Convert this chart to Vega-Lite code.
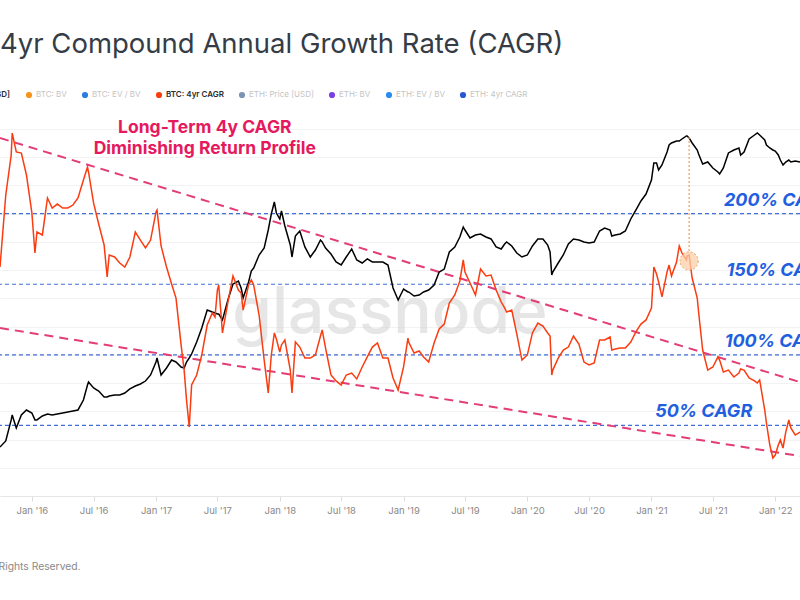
{
  "$schema": "https://vega.github.io/schema/vega-lite/v6.json",
  "width": 800,
  "height": 384,
  "autosize": {"type": "none"},
  "padding": {"left": 0, "top": 112, "right": 0, "bottom": 104},
  "background": "white",
  "config": {"view": {"stroke": null}, "font": "Inter"},
  "title": {"text": "4yr Compound Annual Growth Rate (CAGR)", "anchor": "start", "frame": "group", "font": "Inter", "fontSize": 27.5, "fontWeight": 400, "color": "#353c46", "offset": 11, "baseline": "alphabetic"},
  "datasets": {
    "btc": [
      {"d": "2015-09-29", "price": 241, "cagr": 162.2},
      {"d": "2015-10-16", "price": 269, "cagr": 213.2},
      {"d": "2015-11-01", "price": 393, "cagr": 241.5},
      {"d": "2015-11-04", "price": 430, "cagr": 257.1},
      {"d": "2015-11-16", "price": 340, "cagr": 243.7},
      {"d": "2015-12-01", "price": 430, "cagr": 242.9},
      {"d": "2015-12-16", "price": 470, "cagr": 227.4},
      {"d": "2016-01-01", "price": 445, "cagr": 200.5},
      {"d": "2016-01-10", "price": 393, "cagr": 172.1},
      {"d": "2016-01-16", "price": 393, "cagr": 187.0},
      {"d": "2016-02-01", "price": 422, "cagr": 184.9},
      {"d": "2016-02-16", "price": 437, "cagr": 211.1},
      {"d": "2016-03-01", "price": 430, "cagr": 204.0},
      {"d": "2016-03-16", "price": 437, "cagr": 206.8},
      {"d": "2016-04-01", "price": 445, "cagr": 204.0},
      {"d": "2016-04-16", "price": 453, "cagr": 204.0},
      {"d": "2016-05-01", "price": 461, "cagr": 206.1},
      {"d": "2016-05-16", "price": 470, "cagr": 211.1},
      {"d": "2016-06-01", "price": 562, "cagr": 223.8},
      {"d": "2016-06-13", "price": 736, "cagr": 233.0},
      {"d": "2016-06-16", "price": 778, "cagr": 229.5},
      {"d": "2016-07-01", "price": 698, "cagr": 207.5},
      {"d": "2016-07-16", "price": 661, "cagr": 192.7},
      {"d": "2016-08-01", "price": 594, "cagr": 177.8},
      {"d": "2016-08-10", "price": 594, "cagr": 155.1},
      {"d": "2016-08-16", "price": 604, "cagr": 170.7},
      {"d": "2016-09-01", "price": 615, "cagr": 169.3},
      {"d": "2016-09-16", "price": 615, "cagr": 165.0},
      {"d": "2016-10-01", "price": 638, "cagr": 162.2},
      {"d": "2016-10-16", "price": 686, "cagr": 169.3},
      {"d": "2016-11-01", "price": 723, "cagr": 187.0},
      {"d": "2016-11-16", "price": 750, "cagr": 181.3},
      {"d": "2016-12-01", "price": 791, "cagr": 175.7},
      {"d": "2016-12-16", "price": 882, "cagr": 181.3},
      {"d": "2017-01-01", "price": 1114, "cagr": 201.2},
      {"d": "2017-01-04", "price": 1197, "cagr": 202.6},
      {"d": "2017-01-16", "price": 882, "cagr": 177.1},
      {"d": "2017-02-01", "price": 1000, "cagr": 162.2},
      {"d": "2017-02-16", "price": 1155, "cagr": 150.2},
      {"d": "2017-03-01", "price": 1114, "cagr": 140.2},
      {"d": "2017-03-16", "price": 1018, "cagr": 107.0},
      {"d": "2017-03-25", "price": 1000, "cagr": 89.2},
      {"d": "2017-04-01", "price": 1114, "cagr": 68.0},
      {"d": "2017-04-09", "price": 1197, "cagr": 48.9},
      {"d": "2017-04-16", "price": 1286, "cagr": 78.6},
      {"d": "2017-05-01", "price": 1597, "cagr": 85.7},
      {"d": "2017-05-16", "price": 2054, "cagr": 99.9},
      {"d": "2017-06-01", "price": 2839, "cagr": 121.1},
      {"d": "2017-06-16", "price": 2738, "cagr": 129.6},
      {"d": "2017-06-24", "price": 2689, "cagr": 126.8},
      {"d": "2017-07-01", "price": 2641, "cagr": 145.9},
      {"d": "2017-07-05", "price": 2641, "cagr": 149.5},
      {"d": "2017-07-16", "price": 2371, "cagr": 115.5},
      {"d": "2017-08-01", "price": 3398, "cagr": 137.4},
      {"d": "2017-08-16", "price": 4532, "cagr": 155.8},
      {"d": "2017-09-01", "price": 4783, "cagr": 145.9},
      {"d": "2017-09-09", "price": 4217, "cagr": 143.8},
      {"d": "2017-09-15", "price": 3524, "cagr": 131.7},
      {"d": "2017-10-01", "price": 4698, "cagr": 149.5},
      {"d": "2017-10-09", "price": 5727, "cagr": 153.0},
      {"d": "2017-10-16", "price": 6043, "cagr": 149.5},
      {"d": "2017-11-01", "price": 7635, "cagr": 128.2},
      {"d": "2017-11-16", "price": 8660, "cagr": 96.3},
      {"d": "2017-11-28", "price": 11970, "cagr": 73.0},
      {"d": "2017-12-07", "price": 15960, "cagr": 99.9},
      {"d": "2017-12-16", "price": 19810, "cagr": 115.5},
      {"d": "2017-12-22", "price": 16250, "cagr": 111.2},
      {"d": "2018-01-01", "price": 14590, "cagr": 102.0},
      {"d": "2018-01-06", "price": 16860, "cagr": 107.0},
      {"d": "2018-01-16", "price": 12860, "cagr": 110.5},
      {"d": "2018-02-01", "price": 9140, "cagr": 89.2},
      {"d": "2018-02-06", "price": 7363, "cagr": 73.0},
      {"d": "2018-02-16", "price": 10740, "cagr": 109.1},
      {"d": "2018-03-01", "price": 11760, "cagr": 105.5},
      {"d": "2018-03-16", "price": 8820, "cagr": 97.7},
      {"d": "2018-04-01", "price": 7363, "cagr": 97.7},
      {"d": "2018-04-16", "price": 8350, "cagr": 99.9},
      {"d": "2018-05-01", "price": 10000, "cagr": 113.3},
      {"d": "2018-05-06", "price": 9650, "cagr": 117.6},
      {"d": "2018-05-16", "price": 8660, "cagr": 104.8},
      {"d": "2018-06-01", "price": 7770, "cagr": 85.7},
      {"d": "2018-06-16", "price": 6730, "cagr": 81.5},
      {"d": "2018-07-01", "price": 6380, "cagr": 78.6},
      {"d": "2018-07-16", "price": 7363, "cagr": 85.7},
      {"d": "2018-08-01", "price": 8510, "cagr": 87.1},
      {"d": "2018-08-16", "price": 6980, "cagr": 82.9},
      {"d": "2018-09-01", "price": 6610, "cagr": 91.4},
      {"d": "2018-09-16", "price": 7110, "cagr": 98.5},
      {"d": "2018-10-01", "price": 6730, "cagr": 105.5},
      {"d": "2018-10-16", "price": 6730, "cagr": 108.4},
      {"d": "2018-11-01", "price": 6730, "cagr": 97.7},
      {"d": "2018-11-16", "price": 6380, "cagr": 97.7},
      {"d": "2018-12-01", "price": 4217, "cagr": 83.6},
      {"d": "2018-12-16", "price": 3398, "cagr": 75.1},
      {"d": "2019-01-01", "price": 4140, "cagr": 91.4},
      {"d": "2019-01-14", "price": 3925, "cagr": 111.9},
      {"d": "2019-01-16", "price": 3925, "cagr": 109.1},
      {"d": "2019-02-01", "price": 3652, "cagr": 101.3},
      {"d": "2019-02-16", "price": 3718, "cagr": 102.7},
      {"d": "2019-03-01", "price": 3925, "cagr": 98.5},
      {"d": "2019-03-16", "price": 4067, "cagr": 94.9},
      {"d": "2019-04-01", "price": 4450, "cagr": 108.4},
      {"d": "2019-04-16", "price": 5623, "cagr": 118.3},
      {"d": "2019-05-01", "price": 5930, "cagr": 121.8},
      {"d": "2019-05-16", "price": 8060, "cagr": 136.7},
      {"d": "2019-06-01", "price": 8820, "cagr": 142.4},
      {"d": "2019-06-16", "price": 10550, "cagr": 152.3},
      {"d": "2019-06-26", "price": 12640, "cagr": 167.2},
      {"d": "2019-07-01", "price": 11970, "cagr": 158.7},
      {"d": "2019-07-16", "price": 10370, "cagr": 150.9},
      {"d": "2019-08-01", "price": 10940, "cagr": 142.4},
      {"d": "2019-08-16", "price": 11140, "cagr": 160.8},
      {"d": "2019-09-01", "price": 10550, "cagr": 155.8},
      {"d": "2019-09-16", "price": 10190, "cagr": 156.5},
      {"d": "2019-10-01", "price": 8820, "cagr": 145.9},
      {"d": "2019-10-16", "price": 8510, "cagr": 137.4},
      {"d": "2019-10-26", "price": 9300, "cagr": 133.2},
      {"d": "2019-11-01", "price": 9650, "cagr": 130.3},
      {"d": "2019-11-16", "price": 8980, "cagr": 131.7},
      {"d": "2019-12-01", "price": 7910, "cagr": 114.7},
      {"d": "2019-12-16", "price": 7363, "cagr": 96.3},
      {"d": "2020-01-01", "price": 7635, "cagr": 99.9},
      {"d": "2020-01-16", "price": 8980, "cagr": 115.5},
      {"d": "2020-02-01", "price": 10190, "cagr": 122.5},
      {"d": "2020-02-16", "price": 10190, "cagr": 120.4},
      {"d": "2020-03-01", "price": 9140, "cagr": 115.5},
      {"d": "2020-03-08", "price": 8060, "cagr": 113.3},
      {"d": "2020-03-13", "price": 5330, "cagr": 85.7},
      {"d": "2020-03-16", "price": 5623, "cagr": 89.2},
      {"d": "2020-04-01", "price": 6610, "cagr": 97.7},
      {"d": "2020-04-16", "price": 7635, "cagr": 103.4},
      {"d": "2020-05-01", "price": 9300, "cagr": 105.5},
      {"d": "2020-05-16", "price": 10190, "cagr": 113.3},
      {"d": "2020-06-01", "price": 10000, "cagr": 107.7},
      {"d": "2020-06-16", "price": 9650, "cagr": 94.9},
      {"d": "2020-07-01", "price": 9480, "cagr": 92.8},
      {"d": "2020-07-16", "price": 9650, "cagr": 94.2},
      {"d": "2020-08-01", "price": 11760, "cagr": 110.5},
      {"d": "2020-08-16", "price": 12410, "cagr": 110.5},
      {"d": "2020-09-01", "price": 11970, "cagr": 112.6},
      {"d": "2020-09-06", "price": 10740, "cagr": 103.4},
      {"d": "2020-09-16", "price": 10940, "cagr": 104.1},
      {"d": "2020-10-01", "price": 11140, "cagr": 104.8},
      {"d": "2020-10-16", "price": 11760, "cagr": 104.8},
      {"d": "2020-11-01", "price": 14590, "cagr": 109.1},
      {"d": "2020-11-16", "price": 17150, "cagr": 116.2},
      {"d": "2020-12-01", "price": 20170, "cagr": 121.8},
      {"d": "2020-12-16", "price": 22870, "cagr": 124.7},
      {"d": "2021-01-01", "price": 29430, "cagr": 133.2},
      {"d": "2021-01-08", "price": 39970, "cagr": 162.2},
      {"d": "2021-01-16", "price": 39970, "cagr": 157.2},
      {"d": "2021-01-22", "price": 35240, "cagr": 151.6},
      {"d": "2021-02-01", "price": 38540, "cagr": 141.0},
      {"d": "2021-02-16", "price": 48690, "cagr": 158.7},
      {"d": "2021-02-22", "price": 55210, "cagr": 163.6},
      {"d": "2021-03-01", "price": 57250, "cagr": 155.8},
      {"d": "2021-03-16", "price": 59360, "cagr": 165.7},
      {"d": "2021-03-24", "price": 59360, "cagr": 177.1},
      {"d": "2021-04-01", "price": 61530, "cagr": 172.1},
      {"d": "2021-04-14", "price": 64940, "cagr": 167.2},
      {"d": "2021-04-16", "price": 64940, "cagr": 170.0},
      {"d": "2021-04-22", "price": 62660, "cagr": 170.7},
      {"d": "2021-05-01", "price": 57250, "cagr": 154.4},
      {"d": "2021-05-16", "price": 50490, "cagr": 140.2},
      {"d": "2021-05-20", "price": 46970, "cagr": 130.3},
      {"d": "2021-06-01", "price": 39250, "cagr": 103.4},
      {"d": "2021-06-16", "price": 40670, "cagr": 89.2},
      {"d": "2021-07-01", "price": 36520, "cagr": 91.4},
      {"d": "2021-07-16", "price": 33980, "cagr": 98.5},
      {"d": "2021-07-21", "price": 32790, "cagr": 96.3},
      {"d": "2021-08-01", "price": 36520, "cagr": 87.8},
      {"d": "2021-08-16", "price": 47860, "cagr": 89.2},
      {"d": "2021-09-01", "price": 50490, "cagr": 84.3},
      {"d": "2021-09-16", "price": 52340, "cagr": 87.1},
      {"d": "2021-09-21", "price": 46140, "cagr": 90.0},
      {"d": "2021-10-01", "price": 48690, "cagr": 89.2},
      {"d": "2021-10-16", "price": 61530, "cagr": 83.6},
      {"d": "2021-11-01", "price": 66110, "cagr": 81.5},
      {"d": "2021-11-09", "price": 68540, "cagr": 80.0},
      {"d": "2021-11-16", "price": 66110, "cagr": 82.2},
      {"d": "2021-12-01", "price": 60430, "cagr": 60.9},
      {"d": "2021-12-06", "price": 55210, "cagr": 51.7},
      {"d": "2021-12-16", "price": 52340, "cagr": 36.1},
      {"d": "2021-12-25", "price": 50490, "cagr": 26.9},
      {"d": "2022-01-01", "price": 49590, "cagr": 29.0},
      {"d": "2022-01-10", "price": 46140, "cagr": 36.1},
      {"d": "2022-01-16", "price": 42170, "cagr": 39.7},
      {"d": "2022-01-24", "price": 38540, "cagr": 34.0},
      {"d": "2022-02-01", "price": 40670, "cagr": 45.3},
      {"d": "2022-02-10", "price": 42170, "cagr": 53.8},
      {"d": "2022-02-16", "price": 40670, "cagr": 48.2},
      {"d": "2022-03-01", "price": 41400, "cagr": 43.2},
      {"d": "2022-03-15", "price": 40670, "cagr": 45.3}
    ],
    "levels": [
      {"cagr": 50, "label": "50% CAGR", "d": "2021-01-12"},
      {"cagr": 100, "label": "100% CAGR", "d": "2021-08-05"},
      {"cagr": 150, "label": "150% CAGR", "d": "2021-08-10"},
      {"cagr": 200, "label": "200% CAGR", "d": "2021-08-03"}
    ],
    "trend": [
      {"d": "2015-09-29", "cagr": 253.6, "k": "upper"},
      {"d": "2022-03-15", "cagr": 80.7, "k": "upper"},
      {"d": "2015-09-29", "cagr": 119.0, "k": "lower"},
      {"d": "2022-03-15", "cagr": 28.3, "k": "lower"}
    ],
    "peak": [
      {"d": "2021-04-22", "cagr": 166.5, "top": 255.7, "bottom": 173.5}
    ],
    "notes": [
      {"d": "2018-11-22", "cagr": 115.5, "t": "glassnode"},
      {"d": "2017-05-25", "cagr": 260.7, "t": "Long-Term 4y CAGR"}
    ]
  },
  "layer": [
    {
      "data": {"name": "notes"},
      "transform": [{"filter": "datum.t == 'glassnode'"}],
      "mark": {"type": "text", "font": "Inter", "fontSize": 64, "fontWeight": 500, "fill": "#d2d2d2", "opacity": 0.55, "align": "center", "baseline": "alphabetic"},
      "encoding": {
        "x": {"field": "d", "type": "temporal", "scale": {"type": "utc", "domain": [{"year": 2015, "month": 9, "date": 29, "utc": true}, {"year": 2022, "month": 3, "date": 15, "utc": true}]}},
        "y": {"field": "cagr", "type": "quantitative", "scale": {"domain": [0, 272], "nice": false, "zero": false}, "axis": null},
        "text": {"field": "t"}
      }
    },
    {
      "data": {"name": "levels"},
      "mark": {"type": "rule", "stroke": "#3f6fd7", "strokeWidth": 1.2, "strokeDash": [4, 3]},
      "encoding": {
        "y": {"field": "cagr", "type": "quantitative", "scale": {"domain": [0, 272], "nice": false, "zero": false}, "axis": {"orient": "left", "labels": false, "ticks": false, "domain": false, "grid": true, "gridColor": "#f2f2f2", "gridWidth": 1, "tickCount": 14, "title": null}}
      }
    },
    {
      "data": {"name": "trend"},
      "mark": {"type": "line", "stroke": "#e23d78", "strokeWidth": 2, "strokeDash": [9, 6]},
      "encoding": {
        "x": {"field": "d", "type": "temporal", "scale": {"type": "utc", "domain": [{"year": 2015, "month": 9, "date": 29, "utc": true}, {"year": 2022, "month": 3, "date": 15, "utc": true}]}},
        "y": {"field": "cagr", "type": "quantitative", "scale": {"domain": [0, 272], "nice": false, "zero": false}, "axis": null},
        "detail": {"field": "k"}
      }
    },
    {
      "data": {"name": "btc"},
      "mark": {"type": "line", "strokeWidth": 1.5, "interpolate": "linear"},
      "encoding": {
        "x": {"field": "d", "type": "temporal", "scale": {"type": "utc", "domain": [{"year": 2015, "month": 9, "date": 29, "utc": true}, {"year": 2022, "month": 3, "date": 15, "utc": true}]},
          "axis": {"orient": "bottom", "format": "%b '%y", "tickCount": {"interval": "month", "step": 6}, "labelFont": "Inter", "labelFontSize": 9.5, "labelColor": "#888888", "labelPadding": 4, "tickColor": "#dddddd", "tickSize": 5, "domainColor": "#e6e6e6", "grid": false, "labelFlush": false, "labelOverlap": false,
            "title": "© 2022 Glassnode. All Rights Reserved.", "titleX": 80, "titleY": 73, "titleAlign": "right", "titleAnchor": null, "titleBaseline": "alphabetic", "titleFont": "Inter", "titleFontSize": 10.3, "titleFontWeight": 400, "titleColor": "#8a8a8a"}},
        "y": {"field": "price", "type": "quantitative", "scale": {"type": "log", "domain": [100, 100000], "nice": false, "zero": false}, "axis": null},
        "color": {"datum": "BTC: Price [USD]", "type": "nominal",
          "scale": {"domain": ["BTC: Price [USD]", "BTC: BV", "BTC: EV / BV", "BTC: 4yr CAGR", "ETH: Price [USD]", "ETH: BV", "ETH: EV / BV", "ETH: 4yr CAGR"],
                    "range": ["#000000", "#f7931a", "#2b7de0", "#fa3c10", "#7d93b5", "#7b3fe4", "#2b8cf0", "#2a56d6"]},
          "legend": {"orient": "none", "legendX": -66, "legendY": -21, "direction": "horizontal", "columns": 8, "columnPadding": 14, "title": null, "symbolType": "circle", "symbolSize": 38, "symbolStrokeWidth": 0, "labelFont": "Inter", "labelFontSize": 8, "labelColor": "#bdbdbd", "labelOffset": 3,
            "encode": {
              "symbols": {"update": {"fill": {"scale": "color", "field": "value"}, "stroke": {"value": "transparent"}, "shape": {"value": "circle"}}},
              "labels": {"update": {"fill": {"signal": "indexof(['BTC: Price [USD]','BTC: 4yr CAGR'], datum.label) >= 0 ? '#2b2b2b' : '#c4c4c4'"}, "fontWeight": {"signal": "indexof(['BTC: Price [USD]','BTC: 4yr CAGR'], datum.label) >= 0 ? 600 : 400"}, "fontSize": {"value": 8}}}
            }}
        }
      }
    },
    {
      "data": {"name": "btc"},
      "mark": {"type": "line", "strokeWidth": 1.5, "interpolate": "linear"},
      "encoding": {
        "x": {"field": "d", "type": "temporal", "scale": {"type": "utc", "domain": [{"year": 2015, "month": 9, "date": 29, "utc": true}, {"year": 2022, "month": 3, "date": 15, "utc": true}]}},
        "y": {"field": "cagr", "type": "quantitative", "scale": {"domain": [0, 272], "nice": false, "zero": false}, "axis": null},
        "color": {"datum": "BTC: 4yr CAGR", "type": "nominal"}
      }
    },
    {
      "data": {"name": "peak"},
      "mark": {"type": "rule", "stroke": "#f0a05a", "strokeWidth": 1.2, "strokeDash": [2, 2]},
      "encoding": {
        "x": {"field": "d", "type": "temporal", "scale": {"type": "utc", "domain": [{"year": 2015, "month": 9, "date": 29, "utc": true}, {"year": 2022, "month": 3, "date": 15, "utc": true}]}},
        "y": {"field": "bottom", "type": "quantitative", "scale": {"domain": [0, 272], "nice": false, "zero": false}, "axis": null},
        "y2": {"field": "top"}
      }
    },
    {
      "data": {"name": "peak"},
      "mark": {"type": "point", "shape": "circle", "size": 330, "filled": true, "fill": "#fbcfa8", "fillOpacity": 0.75, "stroke": "#f0a05a", "strokeWidth": 1, "strokeDash": [2, 2]},
      "encoding": {
        "x": {"field": "d", "type": "temporal", "scale": {"type": "utc", "domain": [{"year": 2015, "month": 9, "date": 29, "utc": true}, {"year": 2022, "month": 3, "date": 15, "utc": true}]}},
        "y": {"field": "cagr", "type": "quantitative", "scale": {"domain": [0, 272], "nice": false, "zero": false}, "axis": null}
      }
    },
    {
      "data": {"name": "levels"},
      "mark": {"type": "text", "font": "Inter", "fontSize": 18, "fontWeight": 700, "fontStyle": "italic", "fill": "#1f5fe0", "align": "left", "baseline": "bottom", "dy": -4},
      "encoding": {
        "x": {"field": "d", "type": "temporal", "scale": {"type": "utc", "domain": [{"year": 2015, "month": 9, "date": 29, "utc": true}, {"year": 2022, "month": 3, "date": 15, "utc": true}]}},
        "y": {"field": "cagr", "type": "quantitative", "scale": {"domain": [0, 272], "nice": false, "zero": false}, "axis": null},
        "text": {"field": "label"}
      }
    },
    {
      "data": {"name": "notes"},
      "transform": [{"filter": "datum.t == 'Long-Term 4y CAGR'"}],
      "mark": {"type": "text", "font": "Inter", "fontSize": 17.5, "fontWeight": 700, "fill": "#e5195e", "align": "center", "baseline": "middle", "lineHeight": 21, "text": ["Long-Term 4y CAGR", "Diminishing Return Profile"]},
      "encoding": {
        "x": {"field": "d", "type": "temporal", "scale": {"type": "utc", "domain": [{"year": 2015, "month": 9, "date": 29, "utc": true}, {"year": 2022, "month": 3, "date": 15, "utc": true}]}},
        "y": {"field": "cagr", "type": "quantitative", "scale": {"domain": [0, 272], "nice": false, "zero": false}, "axis": null}
      }
    }
  ],
  "resolve": {"scale": {"y": "independent"}, "axis": {"y": "independent"}}
}
